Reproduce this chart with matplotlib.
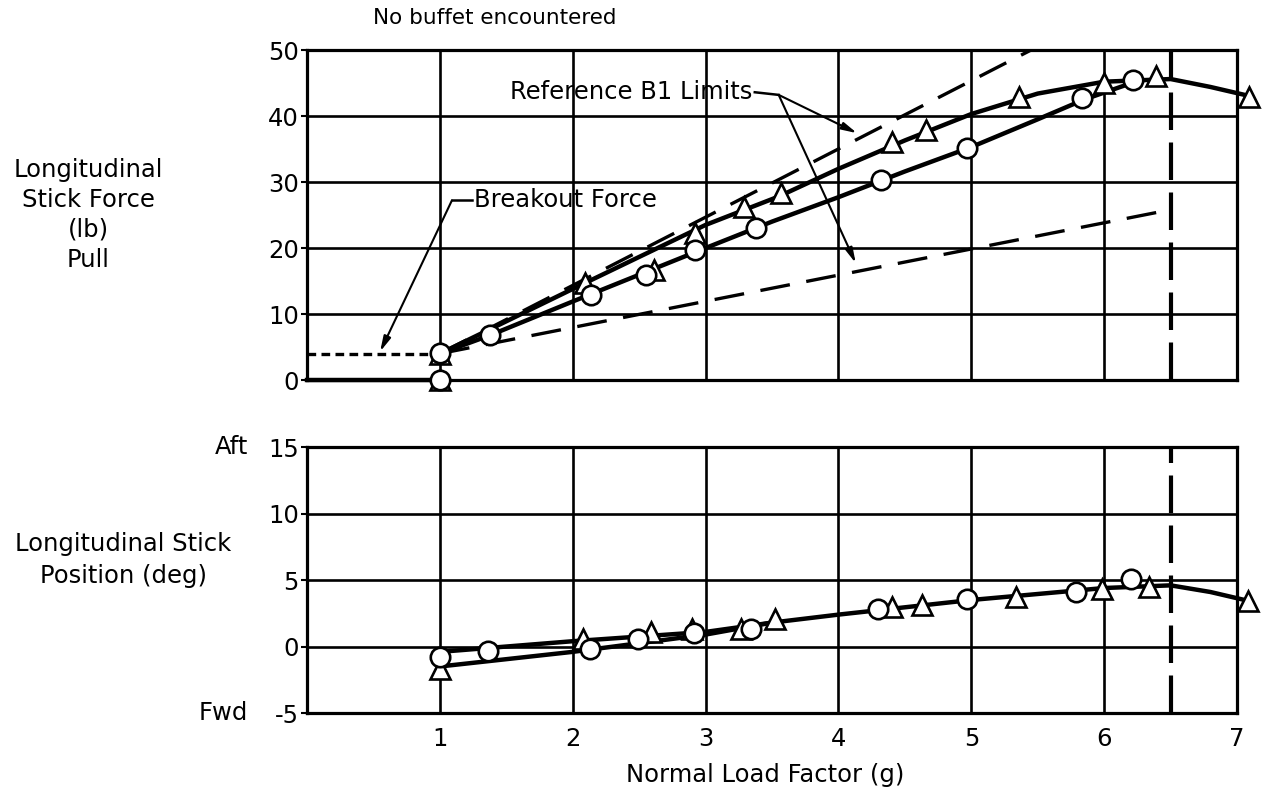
import matplotlib.pyplot as plt

plt.rcParams['font.family'] = ['DejaVu Sans']
plt.rcParams['axes.unicode_minus'] = False

# normal load factor ticks
g_ticks = [1, 2, 3, 4, 5, 6, 7]
force_ticks = [0, 10, 20, 30, 40, 50]
pos_ticks = [-5, 0, 5, 10, 15]

# stick force, circles
force_circle_g = [1.0, 1.0, 1.38, 2.14, 2.55, 2.92, 3.38, 4.32, 4.97, 5.83, 6.22]
force_circle_lb = [0.0, 4.1, 6.8, 12.9, 15.9, 19.7, 23.0, 30.3, 35.2, 42.7, 45.5]
# stick force, triangles
force_tri_g = [1.0, 1.0, 2.09, 2.61, 2.92, 3.29, 3.57, 4.40, 4.66, 5.36, 6.0, 6.39, 7.09]
force_tri_lb = [0.0, 4.0, 14.7, 16.7, 22.3, 26.2, 28.3, 36.0, 37.9, 42.9, 45.0, 46.0, 42.9]

# faired curves
force_circle_fair_g = [1.0, 1.38, 2.0, 3.0, 3.5, 4.0, 4.5, 5.0, 5.5, 5.85, 6.25]
force_circle_fair_lb = [4.0, 6.8, 11.9, 20.0, 24.0, 27.7, 31.6, 35.3, 39.5, 42.5, 45.3]
force_tri_fair_g = [1.0, 2.0, 3.0, 3.55, 4.0, 4.5, 5.0, 5.5, 6.0, 6.5, 6.8, 7.1]
force_tri_fair_lb = [4.0, 13.8, 23.5, 27.8, 32.0, 36.3, 40.3, 43.4, 45.2, 45.6, 44.4, 43.0]

# zero force below breakout
zero_force_g = [0.0, 1.0]
zero_force_lb = [0.0, 0.0]

# breakout force
breakout_g = [0.0, 1.0]
breakout_lb = [4.0, 4.0]

# reference B1 limits
b1_upper_g = [1.0, 5.45]
b1_upper_lb = [4.0, 50.0]
b1_lower_g = [1.0, 6.5]
b1_lower_lb = [4.0, 25.8]

# stick position, circles
pos_circle_g = [1.0, 1.36, 2.13, 2.49, 2.91, 3.34, 4.30, 4.97, 5.79, 6.20]
pos_circle_deg = [-0.75, -0.3, -0.2, 0.6, 1.0, 1.35, 2.8, 3.6, 4.1, 5.1]
# stick position, triangles
pos_tri_g = [1.0, 2.08, 2.59, 2.90, 3.27, 3.52, 4.40, 4.63, 5.34, 5.98, 6.34, 7.08]
pos_tri_deg = [-1.7, 0.6, 1.1, 1.35, 1.35, 2.1, 3.0, 3.15, 3.75, 4.3, 4.5, 3.4]

pos_circle_fair_g = [1.0, 2.0, 3.0, 3.5, 4.0, 5.0, 6.0, 6.5, 6.8, 7.1]
pos_circle_fair_deg = [-0.4, 0.4, 1.1, 1.8, 2.4, 3.5, 4.4, 4.6, 4.1, 3.4]
pos_tri_fair_g = [1.0, 2.0, 3.0, 3.5]
pos_tri_fair_deg = [-1.5, -0.4, 0.9, 1.8]

limit_g = 6.5

FS = 17.5
LW = 3.2
MS_CIRC = 14
MS_TRI = 15

fig = plt.figure(figsize=(12.72, 7.95), dpi=100)
ax1 = fig.add_axes([0.2414, 0.522, 0.7311, 0.4151])
ax2 = fig.add_axes([0.2414, 0.1031, 0.7311, 0.3346])

for ax in (ax1, ax2):
    ax.set_xlim(0, 7)
    ax.set_xticks(g_ticks)
    ax.grid(True, color='black', lw=1.9)
    ax.set_axisbelow(True)
    for sp in ax.spines.values():
        sp.set_linewidth(2.3)
    ax.tick_params(axis='y', length=4, width=1.5, pad=2, labelsize=FS)
    ax.tick_params(axis='x', length=0, pad=10, labelsize=FS)
    ax.axvline(limit_g, color='black', lw=3.0, dashes=(9, 3), zorder=4)

# top panel
ax1.set_ylim(0, 50)
ax1.set_yticks(force_ticks)
ax1.tick_params(axis='x', labelbottom=False)

ax1.plot(zero_force_g, zero_force_lb, color='black', lw=LW, clip_on=False, zorder=3)
ax1.plot(breakout_g, breakout_lb, color='black', lw=2.4, dashes=(2.6, 1.6), zorder=3)
ax1.plot(b1_upper_g, b1_upper_lb, color='black', lw=2.4, dashes=(9, 5), zorder=3)
ax1.plot(b1_lower_g, b1_lower_lb, color='black', lw=2.4, dashes=(9, 5), zorder=3)
ax1.plot(force_tri_fair_g, force_tri_fair_lb, color='black', lw=LW, clip_on=False, zorder=3)
ax1.plot(force_circle_fair_g, force_circle_fair_lb, color='black', lw=LW, clip_on=False, zorder=3)
ax1.plot(force_tri_g, force_tri_lb, ls='none', marker='^', ms=MS_TRI, mfc='white', mec='black',
         mew=1.9, clip_on=False, zorder=5)
ax1.plot(force_circle_g, force_circle_lb, ls='none', marker='o', ms=MS_CIRC, mfc='white', mec='black',
         mew=1.9, clip_on=False, zorder=6)

arrow = dict(arrowstyle='-|>,head_length=0.9,head_width=0.22', lw=1.5, color='black',
             shrinkA=0, shrinkB=0)
ax1.text(3.35, 43.6, 'Reference B1 Limits', ha='right', va='center', fontsize=FS, zorder=7)
ax1.plot([3.37, 3.55], [43.6, 43.2], color='black', lw=1.8, zorder=7)
ax1.annotate('', xy=(4.14, 37.4), xytext=(3.55, 43.2), arrowprops=arrow, zorder=7)
ax1.annotate('', xy=(4.13, 17.7), xytext=(3.55, 43.2), arrowprops=arrow, zorder=7)

ax1.text(1.26, 27.2, 'Breakout Force', ha='left', va='center', fontsize=FS, zorder=7)
ax1.plot([1.09, 1.24], [27.2, 27.2], color='black', lw=1.8, zorder=7)
ax1.annotate('', xy=(0.55, 4.3), xytext=(1.09, 27.2), arrowprops=arrow, zorder=7)

# bottom panel
ax2.set_ylim(-5, 15)
ax2.set_yticks(pos_ticks)
ax2.plot(pos_tri_fair_g, pos_tri_fair_deg, color='black', lw=LW, zorder=3)
ax2.plot(pos_circle_fair_g, pos_circle_fair_deg, color='black', lw=LW, clip_on=False, zorder=3)
ax2.plot(pos_tri_g, pos_tri_deg, ls='none', marker='^', ms=MS_TRI, mfc='white', mec='black',
         mew=1.9, clip_on=False, zorder=5)
ax2.plot(pos_circle_g, pos_circle_deg, ls='none', marker='o', ms=MS_CIRC, mfc='white', mec='black',
         mew=1.9, clip_on=False, zorder=6)
ax2.text(-0.063, 1.0, 'Aft', transform=ax2.transAxes, ha='right', va='center', fontsize=FS)
ax2.text(-0.063, 0.0, 'Fwd', transform=ax2.transAxes, ha='right', va='center', fontsize=FS)

fig.text(0.2932, 0.9774, 'No buffet encountered', ha='left', va='center', fontsize=15.5)
fig.text(88 / 1272, 1 - 215 / 795, 'Longitudinal\nStick Force\n(lb)\nPull', ha='center',
         va='center', fontsize=FS, linespacing=1.3)
fig.text(123 / 1272, 1 - 560 / 795, 'Longitudinal Stick\nPosition (deg)', ha='center',
         va='center', fontsize=FS, linespacing=1.4)
fig.text(765 / 1272, 1 - 775 / 795, 'Normal Load Factor (g)', ha='center', va='center',
         fontsize=FS)

fig.savefig('out.png', dpi=100, facecolor='white')
